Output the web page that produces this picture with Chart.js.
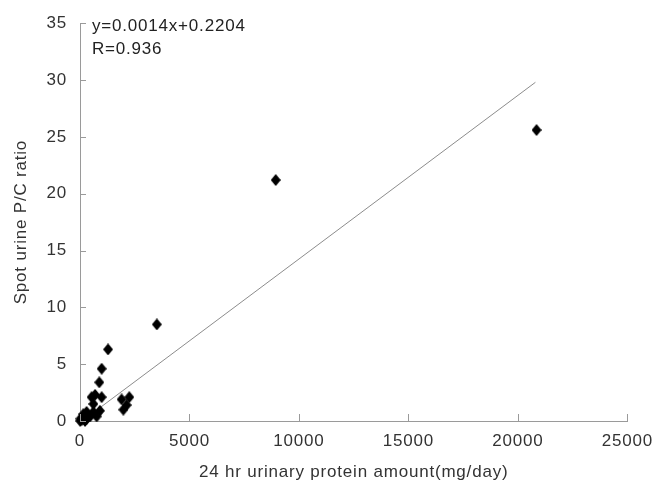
<!DOCTYPE html>
<html>
<head>
<meta charset="utf-8">
<script src="https://cdn.jsdelivr.net/npm/chart.js@4"></script>
<style>
  html, body { margin: 0; padding: 0; background: #fff; }
  #wrap { width: 663px; height: 487px; position: relative; }
</style>
</head>
<body>
<div id="wrap"><canvas id="scatterChart"></canvas></div>
<script>
// Values
const proteinAmount = [20850, 8940, 3510, 1280, 990, 880, 690, 990, 1900, 2250, 2130, 1980,
                       610, 910, 610, 300, 150, 300, 80, 230, 460, 760, 20, 530, 10, 120];
const pcRatio = [25.6, 21.2, 8.5, 6.3, 4.6, 3.4, 2.3, 2.1, 1.9, 2.1, 1.4, 1.0,
                 1.5, 0.9, 0.8, 0.8, 0.6, 0.2, 0.1, 0.0, 0.4, 0.4, 0.2, 2.1, 0.0, 0.3];

// Trend line end points
const trendX = [100, 20800];
const trendY = [0.0, 29.8];

const xTicks = [0, 5000, 10000, 15000, 20000, 25000];
const yTicks = [0, 5, 10, 15, 20, 25, 30, 35];
const equationLines = ['y=0.0014x+0.2204', 'R=0.936'];

const axisGray = '#9a9a9a';
const textColor = '#333333';
const fontFamily = '"Liberation Sans", Arial, sans-serif';
const fontSize = 17;
const spacing = '0.8px';

// Tall black diamond marker
function makeDiamond() {
    const c = document.createElement('canvas');
    c.width = 10;
    c.height = 12;
    const g = c.getContext('2d');
    g.fillStyle = '#000';
    g.beginPath();
    g.moveTo(5, 0);
    g.lineTo(10, 6);
    g.lineTo(5, 12);
    g.lineTo(0, 6);
    g.closePath();
    g.fill();
    return c;
}

const points = proteinAmount.map((x, i) => ({ x: x, y: pcRatio[i] }));
const trendPoints = trendX.map((x, i) => ({ x: x, y: trendY[i] }));

// Letter spacing, inward tick marks and the equation text
const extrasPlugin = {
    id: 'extras',
    beforeLayout(chart) { chart.ctx.letterSpacing = spacing; },
    beforeDraw(chart) { chart.ctx.letterSpacing = spacing; },
    afterDraw(chart) {
        const ctx = chart.ctx;
        const xs = chart.scales.x;
        const ys = chart.scales.y;
        const area = chart.chartArea;
        ctx.save();
        ctx.strokeStyle = axisGray;
        ctx.lineWidth = 1;
        xTicks.forEach(v => {
            const px = Math.round(xs.getPixelForValue(v)) + 0.5;
            ctx.beginPath();
            ctx.moveTo(px, area.bottom);
            ctx.lineTo(px, area.bottom - 7);
            ctx.stroke();
        });
        yTicks.forEach(v => {
            const py = Math.round(ys.getPixelForValue(v)) + 0.5;
            ctx.beginPath();
            ctx.moveTo(area.left, py);
            ctx.lineTo(area.left + 6, py);
            ctx.stroke();
        });
        ctx.fillStyle = '#222';
        ctx.font = fontSize + 'px ' + fontFamily;
        ctx.letterSpacing = spacing;
        ctx.textBaseline = 'middle';
        ctx.fillText(equationLines[0], area.left + 12, area.top + 3);
        ctx.fillText(equationLines[1], area.left + 12, area.top + 26);
        ctx.restore();
    }
};

const ctx = document.getElementById('scatterChart').getContext('2d');
new Chart(ctx, {
    type: 'scatter',
    data: {
        datasets: [
            {
                label: 'data',
                data: points,
                pointStyle: makeDiamond(),
                pointRadius: 5,
                clip: false,
                order: 1
            },
            {
                label: 'trend',
                data: trendPoints,
                showLine: true,
                borderColor: '#8c8c8c',
                borderWidth: 1,
                pointRadius: 0,
                fill: false,
                order: 2
            }
        ]
    },
    options: {
        responsive: true,
        maintainAspectRatio: false,
        animation: false,
        layout: { padding: { top: 22, right: 35, left: 0, bottom: 0 } },
        plugins: {
            legend: { display: false },
            tooltip: { enabled: false }
        },
        scales: {
            x: {
                type: 'linear',
                min: 0,
                max: 25000,
                afterBuildTicks: axis => { axis.ticks = xTicks.map(v => ({ value: v })); },
                afterFit: axis => { axis.height = 66; },
                grid: { display: false, drawTicks: false },
                border: { display: true, color: axisGray, width: 1 },
                ticks: {
                    padding: 10,
                    color: textColor,
                    font: { family: fontFamily, size: fontSize },
                    maxRotation: 0,
                    callback: v => String(v)
                },
                title: {
                    display: true,
                    text: '24 hr urinary protein amount(mg/day)',
                    color: textColor,
                    font: { family: fontFamily, size: fontSize },
                    padding: { top: 8 }
                }
            },
            y: {
                min: 0,
                max: 35,
                afterBuildTicks: axis => { axis.ticks = yTicks.map(v => ({ value: v })); },
                ticks: {
                    padding: 13,
                    color: textColor,
                    font: { family: fontFamily, size: fontSize }
                },
                afterFit: axis => { axis.width = 80; },
                grid: { display: false, drawTicks: false },
                border: { display: true, color: axisGray, width: 1 },
                title: {
                    display: true,
                    text: 'Spot urine P/C ratio',
                    color: textColor,
                    font: { family: fontFamily, size: fontSize },
                    padding: { top: 11, bottom: 0 }
                }
            }
        }
    },
    plugins: [extrasPlugin]
});
</script>
</body>
</html>
